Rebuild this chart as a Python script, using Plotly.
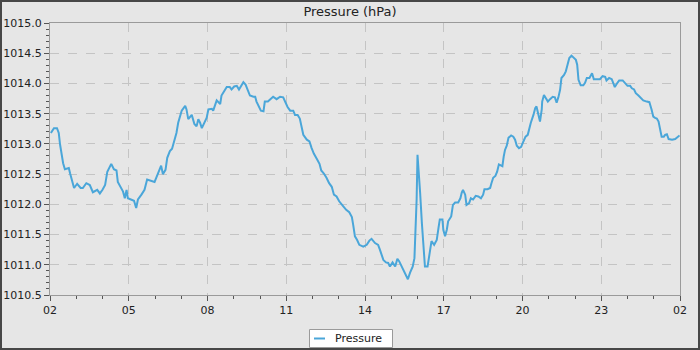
import datetime as dt
import plotly.graph_objects as go

# Sampling times, minutes after 02:00, and barometric pressure (hPa)
minutes = [
    2, 9, 16, 20, 23, 26, 30, 34, 43, 46, 50, 55, 62, 70, 75, 83, 91, 98, 108, 114,
    120, 126, 131, 137, 140, 146, 152, 155, 162, 167, 171, 175, 178, 184, 192, 197, 201, 209, 216, 222,
    232, 239, 243, 248, 254, 258, 264, 268, 274, 279, 285, 289,
    293, 297, 301, 309, 312, 316, 324, 330, 335, 339, 343, 347, 353, 358, 362, 370, 373, 377,
    381, 389, 392, 398, 404, 411, 415, 421, 427, 432, 437, 442, 447, 452, 457, 465, 469, 472,
    478, 482, 488, 491, 498, 503, 510, 518, 526, 533, 537, 543, 549, 556, 560, 566, 571,
    575, 579, 587, 593, 598, 603, 610, 616, 620, 626, 632, 638, 644, 649, 655, 661, 669, 677,
    684, 690, 693, 697, 702, 707, 716, 724, 730, 735, 743, 750, 754, 758, 762, 768, 773, 777,
    783, 789, 794, 798, 804, 809, 814, 818, 823, 829, 833, 835, 838, 840, 842, 846, 850, 853,
    857, 863,
    866, 869, 872, 878, 884, 888, 891, 897, 899, 903, 907, 910, 917, 921, 926, 933, 938, 941,
    944, 949, 952, 958, 962, 967, 973, 979, 985, 990, 993, 1000, 1006, 1009, 1013, 1018, 1022,
    1026, 1031, 1034, 1037, 1040, 1044, 1048, 1054, 1059, 1063, 1067, 1072, 1077, 1082, 1087,
    1092, 1095, 1099, 1105, 1109, 1112, 1116, 1120, 1124, 1125, 1129, 1133, 1138,
    1143, 1149, 1154, 1158, 1162, 1166, 1169, 1175, 1179, 1182, 1187, 1192, 1198, 1202, 1205,
    1208, 1213, 1219, 1223, 1227, 1233, 1236, 1239, 1243, 1249, 1257, 1263, 1269, 1272, 1278,
    1284, 1288, 1291, 1297, 1301, 1309, 1314, 1320, 1326, 1330, 1335, 1339, 1345, 1350, 1356,
    1364, 1370, 1375, 1379, 1383, 1387, 1391, 1394, 1398, 1403, 1406, 1410, 1414, 1422, 1429,
    1434, 1439,
]

pressure = [
    1013.18, 1013.26, 1013.26, 1013.18, 1012.99, 1012.82, 1012.68, 1012.58, 1012.60, 1012.51,
    1012.42, 1012.27, 1012.34, 1012.27, 1012.27, 1012.35, 1012.32, 1012.20, 1012.24, 1012.18,
    1012.24, 1012.32, 1012.54, 1012.64, 1012.67, 1012.58, 1012.56, 1012.37, 1012.28, 1012.21,
    1012.10, 1012.24, 1012.10, 1012.08, 1012.06, 1011.94, 1012.08, 1012.16, 1012.24, 1012.41,
    1012.38, 1012.37, 1012.44, 1012.54, 1012.64, 1012.50, 1012.57, 1012.77, 1012.88, 1012.92,
    1013.09, 1013.18,
    1013.35, 1013.45, 1013.55, 1013.63, 1013.57, 1013.41, 1013.48, 1013.33, 1013.29, 1013.41,
    1013.35, 1013.26, 1013.37, 1013.43, 1013.57, 1013.58, 1013.55, 1013.65, 1013.72, 1013.66,
    1013.80, 1013.87, 1013.94, 1013.94, 1013.90, 1013.95, 1013.96, 1013.90, 1013.96, 1014.02,
    1013.98, 1013.90, 1013.80, 1013.78, 1013.78, 1013.70, 1013.59, 1013.55, 1013.54, 1013.70,
    1013.70, 1013.73, 1013.78, 1013.74, 1013.78, 1013.77, 1013.70, 1013.61, 1013.55, 1013.55,
    1013.48, 1013.48, 1013.42,
    1013.26, 1013.15, 1013.07, 1013.04, 1012.93, 1012.84, 1012.75, 1012.67, 1012.56, 1012.51,
    1012.44, 1012.35, 1012.29, 1012.16, 1012.13, 1012.05, 1011.98, 1011.91, 1011.87, 1011.79,
    1011.66, 1011.47, 1011.41, 1011.33, 1011.30, 1011.33, 1011.40, 1011.43, 1011.36, 1011.33,
    1011.25, 1011.17, 1011.08, 1011.04, 1011.03, 1010.97, 1011.04, 1010.97, 1011.10, 1011.06,
    1010.97, 1010.89, 1010.80, 1010.76, 1010.87, 1010.97, 1011.11, 1011.47, 1012.08, 1012.82,
    1012.63, 1012.19, 1011.69, 1011.30, 1010.97, 1010.97,
    1011.14, 1011.29, 1011.39, 1011.33, 1011.41, 1011.61, 1011.75, 1011.75, 1011.58, 1011.47,
    1011.58, 1011.72, 1011.80, 1011.99, 1012.03, 1012.03, 1012.10, 1012.19, 1012.24, 1012.16,
    1011.99, 1012.02, 1012.10, 1012.08, 1012.14, 1012.13, 1012.10, 1012.16, 1012.25, 1012.25,
    1012.27, 1012.35, 1012.44, 1012.47, 1012.54, 1012.66, 1012.64, 1012.63, 1012.79, 1012.90,
    1012.97, 1013.10, 1013.14, 1013.12, 1013.07, 1012.97, 1012.93, 1012.95, 1013.04, 1013.12,
    1013.15, 1013.25, 1013.35, 1013.48, 1013.59, 1013.62, 1013.51, 1013.37, 1013.57, 1013.70,
    1013.81, 1013.76, 1013.70,
    1013.74, 1013.78, 1013.77, 1013.68, 1013.77, 1013.90, 1014.09, 1014.14, 1014.20, 1014.28,
    1014.42, 1014.46, 1014.41, 1014.39, 1014.31, 1014.06, 1013.97, 1013.97, 1014.01, 1014.09,
    1014.09, 1014.13, 1014.17, 1014.07, 1014.07, 1014.07, 1014.12, 1014.11, 1014.05, 1014.09,
    1014.07, 1014.01, 1013.94, 1014.01, 1014.05, 1014.05, 1014.01, 1013.96, 1013.96, 1013.92,
    1013.90, 1013.84, 1013.80, 1013.76, 1013.72, 1013.70, 1013.69, 1013.57, 1013.45, 1013.43,
    1013.42, 1013.37, 1013.23, 1013.12, 1013.12, 1013.15, 1013.16, 1013.08, 1013.07, 1013.08,
    1013.11, 1013.14,
]

series_name = "Pressure"
chart_title = "Pressure (hPa)"
y_range = [1010.5, 1015.0]

start = dt.datetime(2024, 3, 1, 2, 0)
end = start + dt.timedelta(hours=24)
times = [start + dt.timedelta(minutes=m) for m in minutes]

LINE = "#4aa6d9"
BG = "#e6e6e6"
FONT = "DejaVu Sans"

W, H = 700, 350
ML, MR, MT, MB = 50, 20, 23, 55
PW, PH = W - ML - MR, H - MT - MB


def px(x):
    return (x - ML) / PW


def py(y):
    return (H - MB - y) / PH


fig = go.Figure()
fig.add_trace(go.Scatter(
    x=times, y=pressure, mode="lines", name=series_name,
    line=dict(color=LINE, width=2), showlegend=False,
))

axis_common = dict(
    showline=True, linecolor="#9a9a9a", linewidth=1, mirror=True,
    showgrid=True, gridcolor="#c4c4c4", griddash="dash", gridwidth=1,
    ticks="outside", ticklen=5, tickcolor="#555555",
    tickfont=dict(family=FONT, size=11, color="#222222"),
    zeroline=False, automargin=False,
)

fig.update_xaxes(
    type="date", range=[start, end],
    dtick=3 * 3600 * 1000, tick0=start, tickformat="%H",
    minor=dict(dtick=3600 * 1000, ticks="outside", ticklen=3, tickcolor="#555555", showgrid=False),
    **axis_common,
)
fig.update_yaxes(
    range=y_range, dtick=0.5, tickformat=".1f",
    minor=dict(dtick=0.1, ticks="outside", ticklen=3, tickcolor="#555555", showgrid=False),
    **axis_common,
)

shapes = [
    # outer frame of the chart panel
    dict(type="rect", xref="paper", yref="paper",
         x0=px(1), x1=px(W - 1), y0=py(H - 1), y1=py(1),
         line=dict(color="#474747", width=2), fillcolor="rgba(0,0,0,0)", layer="above"),
    # legend box
    dict(type="rect", xref="paper", yref="paper",
         x0=px(309.5), x1=px(392.5), y0=py(347.5), y1=py(329.5),
         line=dict(color="#9a9a9a", width=1), fillcolor="#ffffff", layer="above"),
    # legend line sample
    dict(type="line", xref="paper", yref="paper",
         x0=px(314), x1=px(325), y0=py(338.5), y1=py(338.5),
         line=dict(color=LINE, width=2), layer="above"),
]

annotations = [
    dict(text=series_name, xref="paper", yref="paper", x=px(333), y=py(338.5),
         xanchor="left", yanchor="middle", showarrow=False,
         font=dict(family=FONT, size=11, color="#222222")),
]

fig.update_layout(
    width=W, height=H, autosize=False,
    margin=dict(l=ML, r=MR, t=MT, b=MB),
    paper_bgcolor=BG, plot_bgcolor=BG,
    title=dict(text=chart_title, x=0.5, xref="container", xanchor="center",
               y=1 - 11.5 / H, yref="container", yanchor="middle",
               font=dict(family=FONT, size=13, color="#222222")),
    shapes=shapes, annotations=annotations,
    showlegend=False,
)

fig.write_html("out.html")
